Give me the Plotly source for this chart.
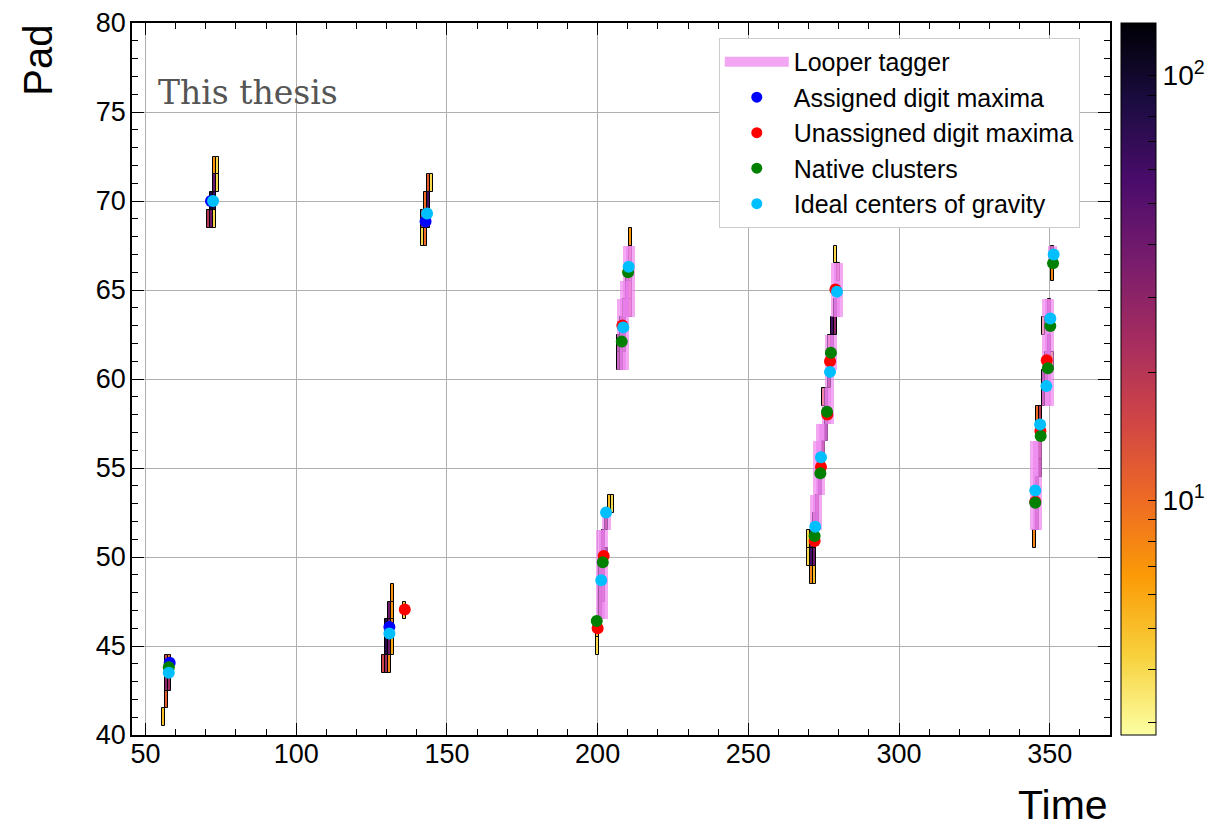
import numpy as np
import plotly.graph_objects as go

# ---------------- data ----------------
# digit cells: time bin, pad, charge
cell_time = [56, 57, 57, 58, 57, 58,
             71, 72, 73, 72, 73, 73, 74, 73, 74,
             144, 145, 143, 144, 142, 143, 144, 142, 143,
             132, 131, 132, 130, 131, 132, 130, 131, 132, 129, 130, 131, 136,
             200, 200, 201, 201, 201, 202, 202, 202, 203, 203, 204, 205, 202,
             207, 207, 208, 208, 208, 209, 209, 209, 210, 210, 210, 211, 211, 211, 211, 211,
             270, 270, 271, 272, 271, 272, 271, 272, 272, 273, 273, 274, 274, 275, 275, 276, 276,
             275, 276, 277, 277, 277, 278, 278, 279, 279, 279, 280,
             345, 346, 346, 346, 347, 347, 346, 347, 348, 348, 348, 349, 349, 350, 350, 350, 351, 351, 351]
cell_pad = [41, 42, 43, 43, 44, 44,
            69, 69, 69, 70, 70, 71, 71, 72, 72,
            71, 71, 70, 70, 69, 69, 69, 68, 68,
            48, 47, 47, 46, 46, 46, 45, 45, 45, 44, 44, 44, 47,
            45, 46, 47, 48, 49, 48, 49, 51, 50, 52, 53, 53, 50,
            61, 62, 61, 62, 63, 62, 63, 64, 64, 65, 66, 64, 65, 66, 67, 68,
            50, 51, 49, 49, 50, 50, 51, 51, 52, 52, 53, 54, 55, 55, 56, 57, 58,
            59, 59, 60, 61, 62, 62, 63, 63, 64, 67, 66,
            51, 52, 53, 54, 55, 56, 58, 58, 59, 60, 63, 60, 61, 61, 62, 64, 61, 66, 67]
cell_charge = [5, 12, 30, 25, 14, 9,
               20, 40, 4, 90, 70, 40, 4, 7, 4,
               12, 4, 10, 60, 20, 60, 30, 4, 10,
               7, 40, 7, 80, 40, 8, 80, 40, 6, 15, 25, 8, 4,
               4, 5, 30, 40, 50, 30, 60, 40, 60, 30, 5, 4, 80,
               30, 40, 50, 60, 40, 50, 60, 40, 50, 60, 30, 7, 6, 8, 6, 7,
               4, 4, 8, 5, 60, 40, 50, 30, 40, 50, 30, 60, 40, 50, 30, 40, 50,
               7, 40, 30, 60, 4, 40, 60, 30, 60, 4, 7,
               8, 40, 30, 50, 30, 20, 10, 20, 30, 40, 4, 50, 60, 40, 50, 30, 5, 8, 20]

# looper tagger (tagged digits)
looper_time = [201, 201, 201, 201, 201, 202, 202, 202, 202, 202, 203,
               208, 208, 208, 209, 209, 209, 208, 209, 209, 210, 210, 210, 210, 211, 211, 211, 211,
               272, 272, 273, 273, 273, 273, 273, 274, 274, 274, 274, 275,
               276, 276, 277, 277, 277, 277, 277, 278, 278,
               279, 279, 279, 280, 280, 280,
               345, 345, 345, 345, 345, 346, 346, 346, 346, 346,
               349, 349, 349, 349, 349, 349, 350, 350, 350, 350, 350, 350, 351]
looper_pad = [47, 48, 49, 50, 51, 47, 48, 49, 50, 51, 52,
              61, 62, 63, 61, 62, 63, 64, 64, 65, 64, 65, 66, 67, 64, 65, 66, 67,
              52, 53, 52, 53, 54, 55, 56, 54, 55, 56, 57, 57,
              58, 59, 58, 59, 60, 61, 62, 61, 62,
              64, 65, 66, 64, 65, 66,
              52, 53, 54, 55, 56, 52, 53, 54, 55, 56,
              59, 60, 61, 62, 63, 64, 59, 60, 61, 62, 63, 64, 67]

assigned_time = [58.0, 71.7, 142.9, 130.9]
assigned_pad = [44.06, 70.0, 68.85, 46.07]

unassigned_time = [136.0, 208.2, 202.0, 200.0, 278.9, 277.1, 276.2, 274.1, 272.0, 349.0, 346.9, 345.2]
unassigned_pad = [47.05, 63.0, 50.06, 46.0, 65.03, 61.0, 58.0, 55.06, 50.9, 61.05, 57.08, 53.1]

native_time = [57.7, 210.1, 208.0, 201.7, 199.7, 277.4, 276.1, 273.9, 272.0, 351.1, 350.2, 349.4, 347.0, 345.2]
native_pad = [43.8, 66.0, 62.1, 49.7, 46.4, 61.48, 58.16, 54.7, 51.18, 66.5, 62.98, 60.6, 56.8, 53.05]

ideal_time = [57.7, 72.4, 143.4, 130.9, 210.3, 208.5, 202.8, 201.2, 279.4, 277.1, 274.1, 272.2,
              351.3, 350.2, 348.9, 346.8, 345.2]
ideal_pad = [43.5, 70.0, 69.3, 45.7, 66.3, 62.9, 52.5, 48.7, 64.9, 60.4, 55.6, 51.7,
             67.0, 63.4, 59.6, 57.45, 53.74]

cbar_ticks = [3, 4, 5, 6, 7, 8, 9, 10, 20, 30, 40, 50, 60, 70, 80, 90, 100]
cbar_labels = {10: "10<sup>1</sup>", 100: "10<sup>2</sup>"}
cmin_val, cmax_val = 2.8, 133.0

# ---------------- figure ----------------
FONT = "Liberation Sans"
fig = go.Figure()

fig.add_trace(go.Bar(
    x=cell_time, y=[1] * len(cell_time), base=[p - 0.5 for p in cell_pad], width=1,
    marker=dict(color=np.log10(cell_charge), colorscale="Inferno_r",
                cmin=np.log10(cmin_val), cmax=np.log10(cmax_val),
                line=dict(color="black", width=1),
                colorbar=dict(x=1.0112, xanchor="left", xpad=0, y=0.5, yanchor="middle",
                              len=1, lenmode="fraction", thickness=35, ypad=0,
                              outlinecolor="black", outlinewidth=1,
                              tickmode="array",
                              tickvals=[np.log10(v) for v in cbar_ticks],
                              ticktext=[cbar_labels.get(v, " ") for v in cbar_ticks],
                              ticks="inside", ticklen=8, tickcolor="black",
                              tickfont=dict(family=FONT, size=28, color="black"))),
    showlegend=False, hoverinfo="skip"))

fig.add_trace(go.Bar(
    x=looper_time, y=[1] * len(looper_time), base=[p - 0.5 for p in looper_pad], width=3,
    marker=dict(color="rgba(238,130,238,0.68)", line=dict(width=0)),
    showlegend=False, hoverinfo="skip"))

# legend proxy for looper tagger
fig.add_trace(go.Scatter(x=[None], y=[None], mode="lines", name="Looper tagger",
                         line=dict(color="rgba(238,130,238,0.7)", width=20)))

pts = [("Assigned digit maxima", assigned_time, assigned_pad, "#0000ff"),
       ("Unassigned digit maxima", unassigned_time, unassigned_pad, "#ff0000"),
       ("Native clusters", native_time, native_pad, "#008000"),
       ("Ideal centers of gravity", ideal_time, ideal_pad, "#00bfff")]
for name, xs, ys, col in pts:
    fig.add_trace(go.Scatter(x=xs, y=ys, mode="markers", showlegend=False,
                             marker=dict(color=col, size=12, line=dict(width=0))))
    fig.add_trace(go.Scatter(x=[None], y=[None], mode="markers", name=name,
                             marker=dict(color=col, size=11)))

axis_common = dict(showline=True, linecolor="black", linewidth=1.5, mirror="allticks",
                   ticks="inside", ticklen=12, tickwidth=1, tickcolor="black",
                   showgrid=True, gridcolor="#b0b0b0", gridwidth=1, zeroline=False,
                   automargin=False,
                   tickfont=dict(family=FONT, size=27, color="black"))
fig.update_xaxes(range=[45.5, 370], dtick=50, tick0=0, ticklabelstandoff=-6,
                 minor=dict(ticks="inside", ticklen=6, dtick=10, tickcolor="black", showgrid=False),
                 **axis_common)
fig.update_yaxes(range=[40, 80], dtick=5, tick0=0, ticklabelstandoff=-1,
                 minor=dict(ticks="inside", ticklen=6, dtick=1, tickcolor="black", showgrid=False),
                 **axis_common)

fig.add_annotation(text="This thesis", xref="paper", yref="paper", x=0.0245, y=0.902,
                   xanchor="left", yanchor="middle", showarrow=False,
                   font=dict(family="DejaVu Serif", size=33, color="#555555"))
fig.add_annotation(text="Pad", xref="paper", yref="paper", x=-0.097, y=1.0,
                   xanchor="center", yanchor="top", textangle=-90, showarrow=False,
                   font=dict(family=FONT, size=40, color="black"))
fig.add_annotation(text="Time", xref="paper", yref="paper", x=1.0, y=-0.098,
                   xanchor="right", yanchor="middle", showarrow=False,
                   font=dict(family=FONT, size=41, color="black"))

fig.update_layout(
    width=1224, height=828,
    margin=dict(l=124, r=122, t=15, b=101, autoexpand=False),
    plot_bgcolor="white", paper_bgcolor="white",
    barmode="overlay", bargap=0,
    legend=dict(x=0.6, y=0.979, xanchor="left", yanchor="top",
                bgcolor="white", bordercolor="#cccccc", borderwidth=1,
                font=dict(family=FONT, size=25, color="black"),
                itemwidth=64),
)

fig.write_html("out.html")
